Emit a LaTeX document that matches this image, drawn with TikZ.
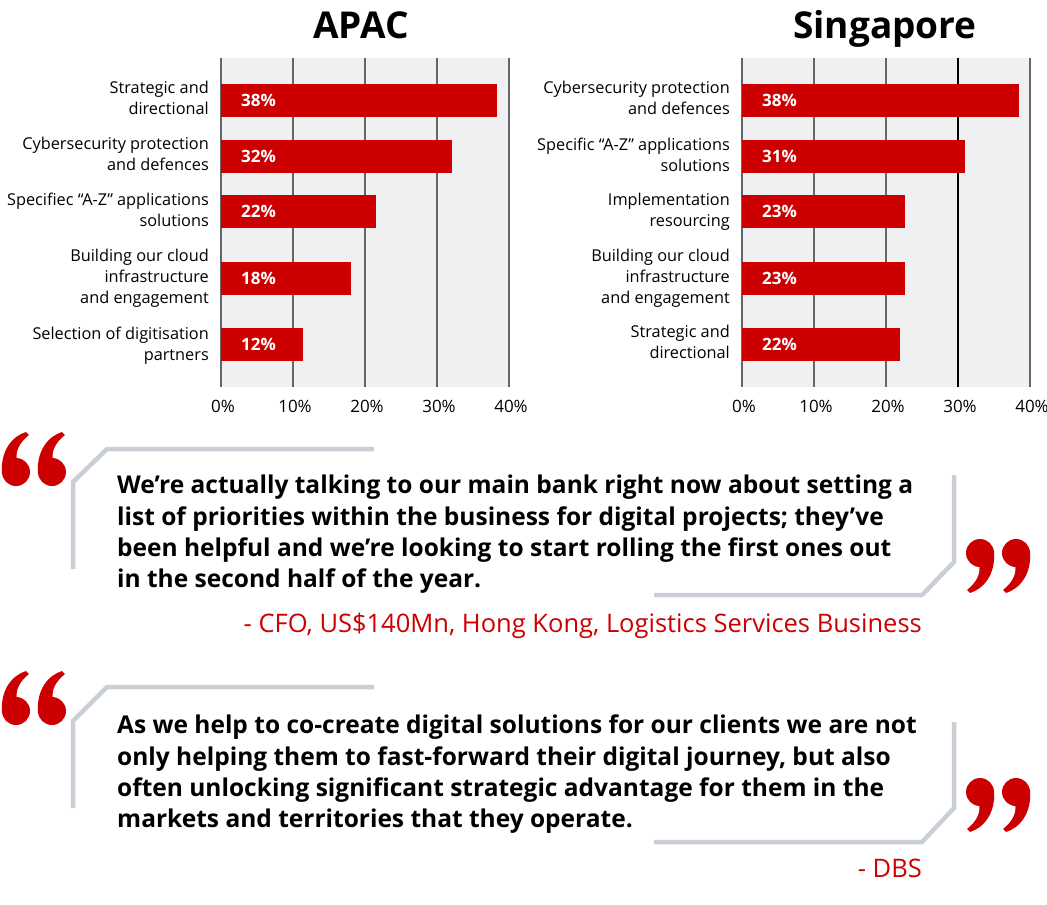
\documentclass[tikz,border=0pt]{standalone}
\usepackage{fontspec}
\setmainfont{Open Sans}
\definecolor{barred}{HTML}{CC0000}
\definecolor{bggray}{HTML}{EFF0F2}
\definecolor{gridgray}{HTML}{666666}
\definecolor{brk}{HTML}{C9CFD5}
\tikzset{
  catlabel/.style={anchor=east, align=right, inner sep=0pt, font=\fontsize{16.3}{21}\selectfont},
  barlabel/.style={anchor=west, inner sep=0pt, text=white, font=\fontsize{17}{20}\selectfont\bfseries},
  axislabel/.style={anchor=base, inner sep=0pt, font=\fontsize{17}{20}\selectfont},
  charttitle/.style={anchor=base, inner sep=0pt, font=\fontsize{37}{40}\selectfont\bfseries},
  gridline/.style={draw=gridgray, line width=2pt},
  barbox/.style={fill=barred},
  quotetext/.style={anchor=north west, align=left, inner sep=0pt, font=\fontsize{24.5}{31.3}\selectfont\bfseries},
  attrib/.style={anchor=base east, inner sep=0pt, text=barred, font=\fontsize{25.5}{28}\selectfont},
  bracket/.style={draw=brk, line width=4.5pt, line join=miter},
  sixmark/.pic={
    \fill[barred] (2,42) .. controls (0,18) and (13,4) .. (26,0) -- (29,3)
                  .. controls (20,10) and (15,19) .. (17,28) -- cycle;
    \fill[barred] (16,40) circle (14);
  }
}
\begin{document}
\begin{tikzpicture}[x=1pt,y=-1pt]
\useasboundingbox (0,0) rectangle (1047,905);

% ---------- APAC chart ----------
\fill[bggray] (221,58) rectangle (509,387);
\foreach \k in {0,...,4} {\draw[gridline] (221+72*\k,58) -- (221+72*\k,387);}
\foreach \v/\ya/\yb [count=\i] in {38.3/84/117, 32.1/140/173, 21.5/195/228, 18.1/262/295, 11.4/328/361} {
  \fill[barbox] (221,\ya) rectangle (221+7.2*\v,\yb);
}
\node[charttitle] (tA) at (361,38) {APAC};
\node[catlabel] (a1) at (209,98) {Strategic and\\directional};
\node[catlabel] (a2) at (209,153.5) {Cybersecurity protection\\and defences};
\node[catlabel] (a3) at (209,210) {Specifiec “A-Z” applications\\solutions};
\node[catlabel] (a4) at (209,278.5) {Building our cloud\\infrastructure\\and engagement};
\node[catlabel] (a5) at (209,346) {Selection of digitisation\\partners};
\node[barlabel] (av1) at (241,100.5) {38\%};
\node[barlabel] (av2) at (241,156.5) {32\%};
\node[barlabel] (av3) at (241,211.5) {22\%};
\node[barlabel] (av4) at (241,278.5) {18\%};
\node[barlabel] (av5) at (241,344.5) {12\%};
\foreach \k in {0,...,4} {\node[axislabel] (ax\k) at (223+72*\k,412) {\the\numexpr10*\k\relax\%};}

% ---------- Singapore chart ----------
\fill[bggray] (742,58) rectangle (1030,387);
\foreach \k in {0,1,2,4} {\draw[gridline] (742+72*\k,58) -- (742+72*\k,387);}
\draw[line width=2pt, black] (958,58) -- (958,387);
\foreach \v/\ya/\yb [count=\i] in {38.5/84/117, 31.0/140/173, 22.7/195/228, 22.7/262/295, 22.0/328/361} {
  \fill[barbox] (742,\ya) rectangle (742+7.2*\v,\yb);
}
\node[charttitle] (tS) at (885,38) {Singapore};
\node[catlabel] (s1) at (730,97.5) {Cybersecurity protection\\and defences};
\node[catlabel] (s2) at (730,155) {Specific “A-Z” applications\\solutions};
\node[catlabel] (s3) at (730,211.5) {Implementation\\resourcing};
\node[catlabel] (s4) at (730,278.5) {Building our cloud\\infrastructure\\and engagement};
\node[catlabel] (s5) at (730,342) {Strategic and\\directional};
\node[barlabel] (sv1) at (762,100.5) {38\%};
\node[barlabel] (sv2) at (762,156.5) {31\%};
\node[barlabel] (sv3) at (762,211.5) {23\%};
\node[barlabel] (sv4) at (762,278.5) {23\%};
\node[barlabel] (sv5) at (762,344.5) {22\%};
\foreach \k in {0,...,4} {\node[axislabel] (sx\k) at (744+72*\k,412) {\the\numexpr10*\k\relax\%};}

% ---------- Quote 1 ----------
\pic at (0,432) {sixmark};
\pic at (36,432) {sixmark};
\draw[bracket] (374,449) -- (107,449) -- (73,482) -- (73,569);
\node[quotetext] (q1) at (117,475) {We’re actually talking to our main bank right now about setting a\\list of priorities within the business for digital projects; they’ve\\been helpful and we’re looking to start rolling the first ones out\\in the second half of the year.};
\draw[bracket] (954,475) -- (954,562) -- (922,595) -- (654,595);
\pic[rotate=180] at (996,593) {sixmark};
\pic[rotate=180] at (1032,593) {sixmark};
\node[attrib] (q1a) at (922,632) {- CFO, US\$140Mn, Hong Kong, Logistics Services Business};

% ---------- Quote 2 ----------
\pic at (0,671) {sixmark};
\pic at (36,671) {sixmark};
\draw[bracket] (374,687) -- (107,687) -- (73,721) -- (73,808);
\node[quotetext] (q2) at (117,715) {As we help to co-create digital solutions for our clients we are not\\only helping them to fast-forward their digital journey, but also\\often unlocking significant strategic advantage for them in the\\markets and territories that they operate.};
\draw[bracket] (954,722) -- (954,808) -- (922,842) -- (654,842);
\pic[rotate=180] at (996,832) {sixmark};
\pic[rotate=180] at (1032,832) {sixmark};
\node[attrib] (q2a) at (922,877) {- DBS};
\end{tikzpicture}
\end{document}
